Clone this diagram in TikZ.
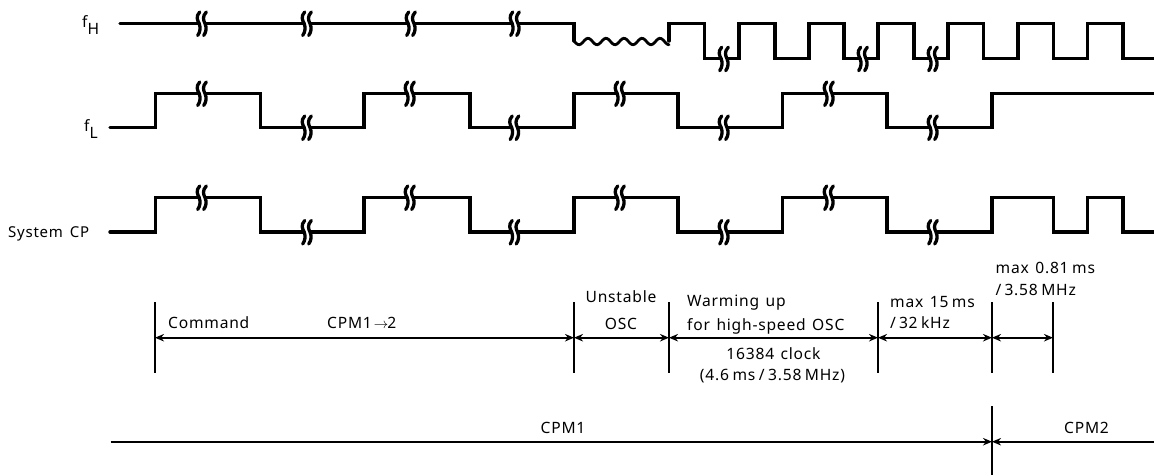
\documentclass[tikz,border=0pt]{standalone}
\usepackage{fontspec}
\setmainfont[LetterSpace=5]{Noto Sans}
\usetikzlibrary{arrows.meta}
\tikzset{
  sig/.style={line width=3.4pt,line join=miter,line cap=round},
  tick/.style={line width=1.9pt},
  dim/.style={line width=1.7pt,{Stealth[length=9pt,width=7.5pt]}-{Stealth[length=9pt,width=7.5pt]}},
  base/.style={line width=2.1pt,-{Stealth[length=9pt,width=7.5pt]}},
  lab/.style={inner sep=0pt,font=\fontsize{15.6}{18}\selectfont},
  labl/.style={lab,anchor=west},
  brkline/.style={line width=3.3pt,line cap=round}
}
\newcommand{\sigbreak}[2]{%
  \begin{scope}[shift={(#1,#2)}]
    \fill[white] (-2.3,-11.5) .. controls (-6.5,-7) and (-4.5,-3) .. (-2.8,0) .. controls (-1.5,4) and (-1.5,8) .. (-4.3,12)
       -- (1.7,12) .. controls (4.5,8) and (4.5,4) .. (2.8,0) .. controls (1,-3) and (-1,-7) .. (4.3,-11.5) -- cycle;
    \draw[brkline] (-2.3,-11.5) .. controls (-6.5,-7) and (-4.5,-3) .. (-2.8,0) .. controls (-1.5,4) and (-1.5,8) .. (-4.3,12);
    \draw[brkline] (4.3,-11.5) .. controls (0,-7) and (1.5,-3) .. (3,0) .. controls (4.6,4) and (4.6,8) .. (1.7,12);
  \end{scope}}
\newcommand{\wgap}{\hspace{6.5pt}}
\begin{document}
\begin{tikzpicture}[x=1pt,y=-1pt]
\useasboundingbox (0,0) rectangle (1154,475);
% fH
\draw[sig] (120,23.5) -- (574,23.5) -- (574,41);
\draw[line width=2.8pt,line cap=round] plot[smooth,domain=0:95,samples=70] ({574+\x},{41.5+3.2*sin(\x*20-10)});
\draw[sig] (669,41) -- (669,23.5) -- (704.5,23.5) -- (704.5,58.7) -- (739,58.7) -- (739,23.5) -- (775,23.5) -- (775,58.7) -- (809,58.7) -- (809,23.5) -- (844,23.5) -- (844,58.7) -- (878,58.7) -- (878,23.5) -- (914,23.5) -- (914,58.7) -- (948,58.7) -- (948,23.5) -- (983.5,23.5) -- (983.5,58.7) -- (1018,58.7) -- (1018,23.5) -- (1053.5,23.5) -- (1053.5,58.7) -- (1087.5,58.7) -- (1087.5,23.5) -- (1123,23.5) -- (1123,58.7) -- (1154,58.7);
\foreach \x in {202,307,411,515} \sigbreak{\x}{23.5};
\foreach \x in {724,863,933} \sigbreak{\x}{58.7};
% fL
\draw[sig] (110,127.5) -- (155.5,127.5) -- (155.5,93.5) -- (260.5,93.5) -- (260.5,127.5) -- (364,127.5) -- (364,93.5) -- (470,93.5) -- (470,127.5) -- (574,127.5) -- (574,93.5) -- (678,93.5) -- (678,127.5) -- (782.5,127.5) -- (782.5,93.5) -- (887,93.5) -- (887,127.5) -- (992,127.5) -- (992,93.5) -- (1154,93.5);
\foreach \x in {202,410,620,829} \sigbreak{\x}{93.5};
\foreach \x in {307,514.5,724,933} \sigbreak{\x}{127.5};
% System CP
\draw[sig] (110,232) -- (155.5,232) -- (155.5,197.5) -- (260.5,197.5) -- (260.5,232) -- (364,232) -- (364,197.5) -- (470,197.5) -- (470,232) -- (574,232) -- (574,197.5) -- (678,197.5) -- (678,232) -- (782.5,232) -- (782.5,197.5) -- (887,197.5) -- (887,232) -- (992,232) -- (992,197.5) -- (1053.5,197.5) -- (1053.5,232) -- (1087.5,232) -- (1087.5,197.5) -- (1123,197.5) -- (1123,232) -- (1154,232);
\foreach \x in {202,410,620,829} \sigbreak{\x}{197.5};
\foreach \x in {307,514.5,724,933} \sigbreak{\x}{232};
% signal labels
\node[labl] (fh) at (82,25) {f\raisebox{-6.5pt}{H}};
\node[labl] (fl) at (84,129) {f\raisebox{-6.5pt}{L}};
\node[labl,font=\fontsize{15}{18}\selectfont] (sys) at (8,234) {System\hspace{7pt}CP};
% ticks
\foreach \n/\x in {a/155,b/574,c/669,d/878,e/992,f/1053}{
  \coordinate (\n t) at (\x,302);
  \coordinate (\n m) at (\x,337.7);
  \coordinate (\n b) at (\x,373);
  \draw[tick] (\n t) -- (\n b);
}
\foreach \p/\q in {a/b,b/c,c/d,d/e,e/f} \draw[dim] (\p m) -- (\q m);
% bottom
\coordinate (gt) at (992,406);
\coordinate (gm) at (992,441.7);
\coordinate (gb) at (992,475);
\coordinate (gl) at (110.5,441.7);
\coordinate (gr) at (1154,441.7);
\draw[tick] (gt) -- (gb);
\draw[base] (gl) -- (gm);
\draw[base] (gr) -- (gm);
% labels
\node[labl] (cmd) at (168,323) {Command};
\node[labl] (cpm12) at (327,323) {CPM1\hspace{2pt}$\rightarrow$\hspace{-1pt}2};
\node[lab] (uns) at (621,297) {Unstable};
\node[lab] (osc) at (621,324) {OSC};
\node[labl] (warm) at (687,303) {Warming\wgap up};
\node[labl] (high) at (687,326) {for\wgap high-speed\wgap OSC};
\node[lab] (clk) at (773.5,354) {16384\wgap clock};
\node[lab] (par) at (772.5,376) {(4.6\hspace{3.5pt}ms\hspace{3.5pt}/\hspace{3.5pt}3.58\hspace{3.5pt}MHz)};
\node[labl] (m15) at (890,302) {max\wgap 15\hspace{3.5pt}ms};
\node[labl] (k32) at (890,323) {/\hspace{3pt}32\hspace{3.5pt}kHz};
\node[labl] (m08) at (995.5,268) {max\wgap 0.81\hspace{3.5pt}ms};
\node[labl] (m358) at (995.5,290) {/\hspace{3pt}3.58\hspace{3.5pt}MHz};
\node[lab] (cpm1) at (563,428) {CPM1};
\node[lab] (cpm2) at (1086.5,428) {CPM2};
\end{tikzpicture}
\end{document}
